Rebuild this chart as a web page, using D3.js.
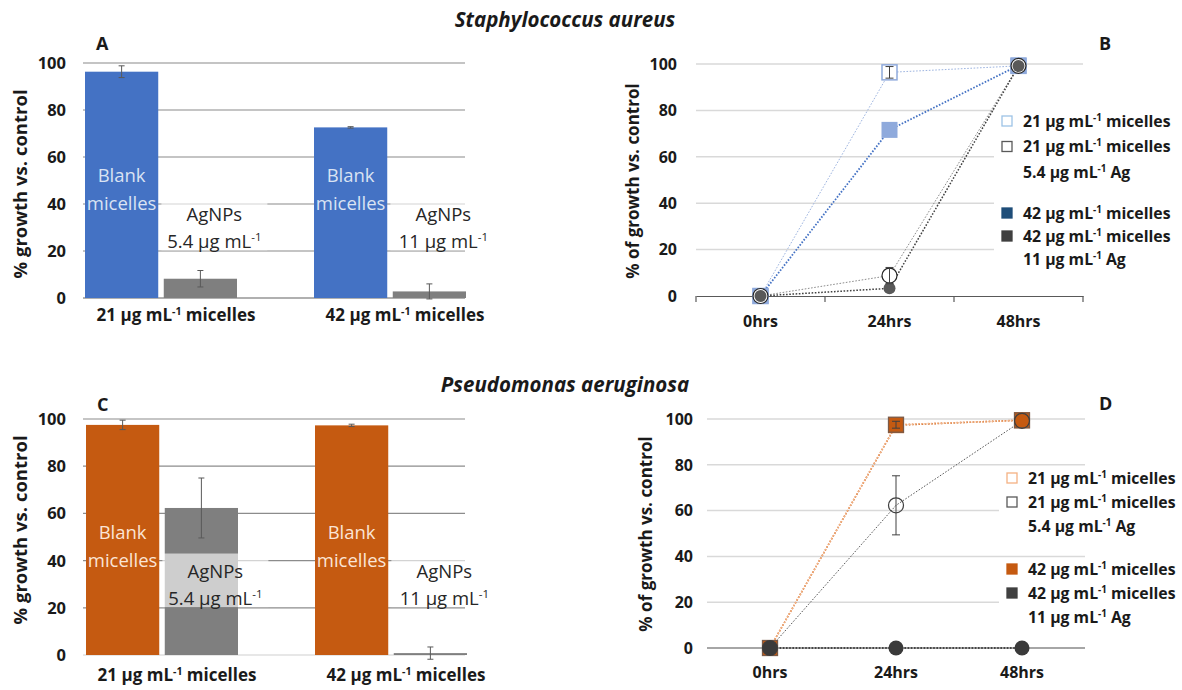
<!DOCTYPE html>
<html>
<head>
<meta charset="utf-8">
<script src="https://cdn.jsdelivr.net/npm/d3@7/dist/d3.min.js"></script>
<style>
  body { margin: 0; background: #fff; }
  svg { display: block; font-family: 'Open Sans', sans-serif; }
</style>
</head>
<body>
<div id="chart"></div>
<script>
// ---- data ----
const micelleDoses = ['21', '42'];
const agDoses = ['5.4', '11'];
const yTicks = [0, 20, 40, 60, 80, 100];
const timePoints = ['0hrs', '24hrs', '48hrs'];

// S. aureus, growth after 24 h (panel A)
const saBlank = [96.3, 72.6];
const saBlankErr = [2.5, 0.3];
const saAgnp = [8.2, 2.8];
const saAgnpErr = [3.5, 3.2];

// P. aeruginosa, growth after 24 h (panel C)
const paBlank = [97.5, 97.3];
const paBlankErr = [2.0, 0.5];
const paAgnp = [62.3, 0.8];
const paAgnpErr = [12.7, 2.6];

// S. aureus time course (panel B)
const saMic21 = [0, 96.4, 99.2];
const saMic21Err = [0, 2.5, 0];
const saAg21 = [0, 8.8, 99.2];
const saAg21Err = [0, 3.5, 0];
const saMic42 = [0, 71.6, 99.4];
const saAg42 = [0, 3.3, 99.1];

// P. aeruginosa time course (panel D)
const paMic21 = [0, 97.5, 99.4];
const paMic21Err = [0, 1.5, 0];
const paAg21 = [0, 62.3, 99.2];
const paAg21Err = [0, 12.9, 0];
const paMic42 = [0, 97.3, 99.5];
const paAg42 = [0, 0, 0];

const W = 1182, H = 690;
const svg = d3.select('#chart').append('svg')
  .attr('width', W).attr('height', H);

// writes text made of parts, a part flagged true is set as superscript
function richText(text, parts, size) {
  let up = false;
  parts.forEach(([t, sup]) => {
    const ts = text.append('tspan').text(t);
    if (sup && !up) {
      ts.attr('font-size', size * 0.62).attr('dy', -size * 0.38);
      up = true;
    } else if (!sup && up) {
      ts.attr('dy', size * 0.38);
      up = false;
    }
  });
  return text;
}
const micelleLabel = d => [[`${d} \u03bcg mL`], ['-1', true], [' micelles']];
const agLabel = d => [[`${d} \u03bcg mL`], ['-1', true], [' Ag']];
const doseLabel = d => [[`${d} \u03bcg mL`], ['-1', true]];

function title(txt, cx, baseline) {
  svg.append('text').attr('x', cx).attr('y', baseline)
    .attr('text-anchor', 'middle').attr('font-size', 20.5)
    .attr('font-weight', 700).attr('font-style', 'italic')
    .attr('fill', '#1a1a1a').text(txt);
}

function panelLetter(txt, x, baseline) {
  svg.append('text').attr('x', x).attr('y', baseline)
    .attr('font-size', 18).attr('font-weight', 700).attr('fill', '#1a1a1a').text(txt);
}

// ---- grouped bar panel (A, C) ----
function barPanel(cfg) {
  const g = svg.append('g');
  const x0 = d3.scaleBand().domain(micelleDoses).range(cfg.xRange);
  const x1 = d3.scaleBand().domain(['blank', 'agnp'])
    .range([0, cfg.groupWidth]).paddingInner(0.07);
  const y = d3.scaleLinear().domain([0, 100]).range(cfg.yRange);

  g.selectAll('line.grid').data(yTicks).join('line')
    .attr('class', 'grid')
    .attr('x1', cfg.gridX[0]).attr('x2', cfg.gridX[1])
    .attr('y1', d => y(d)).attr('y2', d => y(d))
    .attr('stroke', d => d === 0 ? cfg.baseColor : cfg.gridColor)
    .attr('stroke-width', cfg.gridWidth);

  g.selectAll('text.tick').data(yTicks).join('text')
    .attr('class', 'tick')
    .attr('x', cfg.tickX).attr('y', d => y(d)).attr('dy', '0.36em')
    .attr('text-anchor', 'end').attr('font-size', 16.5).attr('font-weight', 700)
    .attr('fill', '#1a1a1a').text(d => d);

  g.append('text')
    .attr('transform', `translate(${cfg.yTitle[0]},${cfg.yTitle[1]}) rotate(-90)`)
    .attr('text-anchor', 'middle').attr('dy', '0.35em')
    .attr('font-size', 18.5).attr('font-weight', 700).attr('fill', '#1a1a1a')
    .text('% growth vs. control');

  const rows = micelleDoses.map((m, i) => ({
    m,
    bars: [
      { key: 'blank', v: cfg.blank[i], e: cfg.blankErr[i] },
      { key: 'agnp', v: cfg.agnp[i], e: cfg.agnpErr[i] }
    ]
  }));

  const grp = g.selectAll('g.grp').data(rows).join('g')
    .attr('class', 'grp')
    .attr('transform', d => `translate(${x0(d.m)},0)`);

  grp.selectAll('rect.bar').data(d => d.bars).join('rect')
    .attr('class', 'bar')
    .attr('x', d => x1(d.key)).attr('width', x1.bandwidth())
    .attr('y', d => y(d.v)).attr('height', d => y(0) - y(d.v))
    .attr('fill', d => d.key === 'blank' ? cfg.barColor : '#7f7f7f');

  // error bars
  const eb = grp.selectAll('g.err').data(d => d.bars).join('g')
    .attr('class', 'err')
    .attr('transform', d => `translate(${x1(d.key) + x1.bandwidth() / 2},0)`);
  eb.append('line').attr('y1', d => y(d.v + d.e)).attr('y2', d => y(d.v - d.e));
  eb.append('line').attr('x1', -3).attr('x2', 3).attr('y1', d => y(d.v + d.e)).attr('y2', d => y(d.v + d.e));
  eb.append('line').attr('x1', -3).attr('x2', 3).attr('y1', d => y(d.v - d.e)).attr('y2', d => y(d.v - d.e));
  eb.selectAll('line').attr('stroke', '#595959').attr('stroke-width', 1);

  // labels inside the blank bars
  const bc = x1('blank') + x1.bandwidth() / 2;
  grp.append('text').attr('x', bc).attr('y', y(52)).attr('dy', '0.35em')
    .attr('text-anchor', 'middle').attr('font-size', 18.5)
    .attr('fill', cfg.inBarText).text('Blank');
  grp.append('text').attr('x', bc).attr('y', y(40)).attr('dy', '0.35em')
    .attr('text-anchor', 'middle').attr('font-size', 18.5)
    .attr('fill', cfg.inBarText).text('micelles');

  // AgNPs labels on a translucent box
  const ac = x1('agnp') + x1.bandwidth() / 2 + 14;
  grp.append('rect')
    .attr('x', ac - 53).attr('width', 106)
    .attr('y', y(43)).attr('height', y(20.3) - y(43))
    .attr('fill', '#fff').attr('fill-opacity', 0.62);
  grp.append('text').attr('x', ac).attr('y', y(35.5)).attr('dy', '0.35em')
    .attr('text-anchor', 'middle').attr('font-size', 18.5).attr('fill', '#262626')
    .text('AgNPs');
  grp.append('text').attr('x', ac).attr('y', y(24)).attr('dy', '0.35em')
    .attr('text-anchor', 'middle').attr('font-size', 18.5).attr('fill', '#262626')
    .each(function (d, i) { richText(d3.select(this), doseLabel(agDoses[i]), 18.5); });

  // category labels
  grp.append('text')
    .attr('x', cfg.groupWidth / 2 + 15).attr('y', cfg.catY)
    .attr('text-anchor', 'middle').attr('font-size', 17).attr('font-weight', 700)
    .attr('fill', '#1a1a1a')
    .each(function (d) { richText(d3.select(this), micelleLabel(d.m), 17); });
}

// ---- time-course panel (B, D) ----
function linePanel(cfg) {
  const g = svg.append('g');
  const x = d3.scaleBand().domain(timePoints).range(cfg.xRange);
  const y = d3.scaleLinear().domain([0, 100]).range(cfg.yRange);
  const cx = t => x(t) + x.bandwidth() / 2;

  g.selectAll('line.grid').data(yTicks.filter(d => d > 0)).join('line')
    .attr('class', 'grid')
    .attr('x1', cfg.xRange[0]).attr('x2', cfg.xRange[1])
    .attr('y1', d => y(d)).attr('y2', d => y(d))
    .attr('stroke', '#d9d9d9').attr('stroke-width', 1.5);

  // legend background hides the grid behind it
  cfg.legend.forEach(grpL => {
    g.append('rect')
      .attr('x', cfg.legendX - 8).attr('width', W - cfg.legendX + 8)
      .attr('y', grpL.y - cfg.legendPad)
      .attr('height', grpL.step * (grpL.lines - 1) + cfg.legendPad + 10)
      .attr('fill', '#fff');
  });

  // x axis
  if (cfg.ticks) {
    const ax = g.append('g').attr('transform', `translate(0,${y(0)})`)
      .call(d3.axisBottom(x).tickSize(0).tickFormat(''));
    ax.select('.domain').attr('stroke', '#595959').attr('stroke-width', 1.2);
    const edges = timePoints.map(t => x(t)).concat([cfg.xRange[1]]);
    ax.selectAll('line.edge').data(edges).join('line')
      .attr('class', 'edge').attr('x1', d => d).attr('x2', d => d)
      .attr('y1', 0).attr('y2', 6).attr('stroke', '#595959').attr('stroke-width', 1.2);
  } else {
    g.append('line').attr('x1', cfg.xRange[0]).attr('x2', cfg.xRange[1])
      .attr('y1', y(0)).attr('y2', y(0))
      .attr('stroke', '#a6a6a6').attr('stroke-width', 2);
  }

  g.selectAll('text.xl').data(timePoints).join('text')
    .attr('class', 'xl').attr('x', d => cx(d)).attr('y', cfg.xLabelY)
    .attr('text-anchor', 'middle').attr('font-size', 16).attr('font-weight', 700)
    .attr('fill', '#1a1a1a').text(d => d);

  g.selectAll('text.tick').data(yTicks).join('text')
    .attr('class', 'tick')
    .attr('x', cfg.tickX).attr('y', d => y(d)).attr('dy', '0.36em')
    .attr('text-anchor', 'end').attr('font-size', 16).attr('font-weight', 700)
    .attr('fill', '#1a1a1a').text(d => d);

  g.append('text')
    .attr('transform', `translate(${cfg.yTitle[0]},${cfg.yTitle[1]}) rotate(-90)`)
    .attr('text-anchor', 'middle').attr('dy', '0.35em')
    .attr('font-size', 17).attr('font-weight', 700).attr('fill', '#1a1a1a')
    .text('% of growth vs. control');

  const line = d3.line().x((d, i) => cx(timePoints[i])).y(d => y(d));

  cfg.series.forEach(s => {
    g.append('path').datum(s.values).attr('d', line)
      .attr('fill', 'none').attr('stroke', s.lineColor)
      .attr('stroke-width', s.lineWidth).attr('stroke-dasharray', '1.6,1.6');
  });

  cfg.series.forEach(s => {
    const pts = g.selectAll(null).data(s.values).enter();
    if (s.shape === 'square') {
      pts.append('rect')
        .attr('x', (d, i) => cx(timePoints[i]) - s.size / 2).attr('width', s.size)
        .attr('y', d => y(d) - s.size / 2).attr('height', s.size)
        .attr('fill', s.fill).attr('stroke', s.stroke).attr('stroke-width', s.strokeWidth);
    } else {
      pts.append('circle')
        .attr('cx', (d, i) => cx(timePoints[i])).attr('cy', d => y(d)).attr('r', s.size / 2)
        .attr('fill', s.fill).attr('stroke', s.stroke).attr('stroke-width', s.strokeWidth);
    }
  });

  // error bars on top of the markers
  cfg.series.filter(s => s.err).forEach(s => {
    s.values.forEach((v, i) => {
      const e = s.err[i];
      if (!e) return;
      const px = cx(timePoints[i]);
      const eb = g.append('g').attr('stroke', '#404040').attr('stroke-width', 1);
      eb.append('line').attr('x1', px).attr('x2', px).attr('y1', y(v + e)).attr('y2', y(v - e));
      eb.append('line').attr('x1', px - 4).attr('x2', px + 4).attr('y1', y(v + e)).attr('y2', y(v + e));
      eb.append('line').attr('x1', px - 4).attr('x2', px + 4).attr('y1', y(v - e)).attr('y2', y(v - e));
    });
  });

  // legend
  cfg.legend.forEach(grpL => {
    grpL.items.forEach((it, k) => {
      const row = grpL.y + grpL.rows[k] * grpL.step;
      g.append('rect')
        .attr('x', cfg.legendX).attr('y', row - 5).attr('width', 10).attr('height', 10)
        .attr('fill', it.fill).attr('stroke', it.stroke).attr('stroke-width', 1.3);
      it.text.forEach((parts, j) => {
        g.append('text')
          .attr('x', cfg.legendX + 21).attr('y', row + j * grpL.step).attr('dy', '0.35em')
          .attr('font-size', 15.8).attr('font-weight', 700).attr('fill', '#1a1a1a')
          .call(t => richText(t, parts, 15.8));
      });
    });
  });
}

title('Staphylococcus aureus', 565, 27);
title('Pseudomonas aeruginosa', 565, 392);

barPanel({
  xRange: [85, 543], groupWidth: 152, yRange: [298, 63], gridX: [83, 465],
  gridColor: '#c4c4c4', baseColor: '#b0b0b0', gridWidth: 2,
  barColor: '#4472c4', inBarText: '#dae3f3',
  blank: saBlank, blankErr: saBlankErr, agnp: saAgnp, agnpErr: saAgnpErr,
  tickX: 66, yTitle: [21, 184], catY: 321
});
panelLetter('A', 96, 50);

barPanel({
  xRange: [86, 544], groupWidth: 152, yRange: [655, 419], gridX: [83, 465],
  gridColor: '#8c8c8c', baseColor: '#d0d0d0', gridWidth: 1.2,
  barColor: '#c55a11', inBarText: '#fbe5d6',
  blank: paBlank, blankErr: paBlankErr, agnp: paAgnp, agnpErr: paAgnpErr,
  tickX: 66, yTitle: [21, 530], catY: 681
});
panelLetter('C', 97, 411);

linePanel({
  xRange: [696, 1083], yRange: [296, 64], ticks: true,
  tickX: 677, xLabelY: 327, yTitle: [633, 181],
  legendX: 1002, legendPad: 12,
  series: [
    { values: saMic21, err: saMic21Err, shape: 'square', size: 15, fill: '#fff', stroke: '#8faadc', strokeWidth: 1.5, lineColor: '#9db4e0', lineWidth: 1 },
    { values: saMic42, shape: 'square', size: 16, fill: '#8faadc', stroke: 'none', strokeWidth: 0, lineColor: '#4472c4', lineWidth: 1.8 },
    { values: saAg21, err: saAg21Err, shape: 'circle', size: 15, fill: '#fff', stroke: '#262626', strokeWidth: 1.2, lineColor: '#8c8c8c', lineWidth: 1 },
    { values: saAg42, shape: 'circle', size: 12, fill: '#595959', stroke: 'none', strokeWidth: 0, lineColor: '#404040', lineWidth: 1.5 }
  ],
  legend: [
    { y: 121, step: 25.5, lines: 3, rows: [0, 1], items: [
      { fill: '#fff', stroke: '#9dc3e6', text: [micelleLabel('21')] },
      { fill: '#fff', stroke: '#595959', text: [micelleLabel('21'), agLabel('5.4')] }
    ] },
    { y: 213, step: 23, lines: 3, rows: [0, 1], items: [
      { fill: '#1f4e79', stroke: '#1f4e79', text: [micelleLabel('42')] },
      { fill: '#404040', stroke: '#404040', text: [micelleLabel('42'), agLabel('11')] }
    ] }
  ]
});
panelLetter('B', 1099, 50);

linePanel({
  xRange: [707, 1085], yRange: [648, 419], ticks: false,
  tickX: 693, xLabelY: 678, yTitle: [646, 534],
  legendX: 1007, legendPad: 9,
  series: [
    { values: paMic42, shape: 'square', size: 16, fill: '#c55a11', stroke: 'none', strokeWidth: 0, lineColor: '#c55a11', lineWidth: 1.6 },
    { values: paMic21, err: paMic21Err, shape: 'square', size: 15, fill: 'none', stroke: '#7a5a48', strokeWidth: 1.3, lineColor: '#f4b183', lineWidth: 1.6 },
    { values: paAg21, err: paAg21Err, shape: 'circle', size: 15, fill: 'none', stroke: '#404040', strokeWidth: 1.2, lineColor: '#595959', lineWidth: 1 },
    { values: paAg42, shape: 'circle', size: 15, fill: '#3a3a3a', stroke: 'none', strokeWidth: 0, lineColor: '#262626', lineWidth: 1.5 }
  ],
  legend: [
    { y: 478, step: 24, lines: 3, rows: [0, 1], items: [
      { fill: '#fff', stroke: '#f4b183', text: [micelleLabel('21')] },
      { fill: '#fff', stroke: '#595959', text: [micelleLabel('21'), agLabel('5.4')] }
    ] },
    { y: 569, step: 24, lines: 3, rows: [0, 1], items: [
      { fill: '#c55a11', stroke: '#c55a11', text: [micelleLabel('42')] },
      { fill: '#404040', stroke: '#404040', text: [micelleLabel('42'), agLabel('11')] }
    ] }
  ]
});
panelLetter('D', 1099, 410);
</script>
</body>
</html>
